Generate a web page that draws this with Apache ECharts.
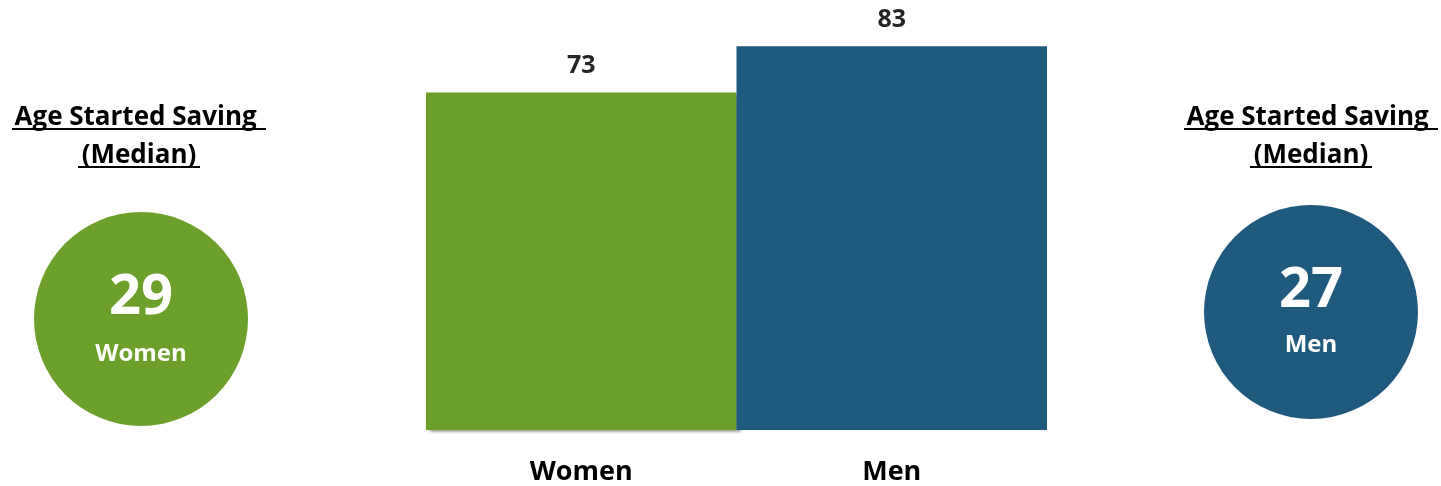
<!DOCTYPE html>
<html>
<head>
<meta charset="utf-8">
<script src="https://cdn.jsdelivr.net/npm/echarts@6/dist/echarts.min.js"></script>
<style>
html,body{margin:0;padding:0;background:#fff;}
#main{width:1441px;height:486px;}
</style>
</head>
<body>
<div id="main"></div>
<script>
const categories = ['Women', 'Men'];
const barValues = [73, 83];
const medianAges = [29, 27];
const circleLabels = ['Women', 'Men'];
const titleLines = ['Age Started Saving ', '(Median)'];
const colors = ['#6CA02A', '#1F5A7E'];

const FONT = '"Open Sans", sans-serif';
const chart = echarts.init(document.getElementById('main'));

function titleBlock(cx) {
  const els = [];
  const ys = [118, 156];
  const underlineY = [129, 167];
  const widths = [254, 122];
  titleLines.forEach((t, i) => {
    els.push({
      type: 'text', x: cx, y: ys[i],
      style: { text: t, font: 'bold 26px ' + FONT, fill: '#000', align: 'center', verticalAlign: 'middle' }
    });
    els.push({
      type: 'line',
      shape: { x1: cx - widths[i] / 2, y1: underlineY[i], x2: cx + widths[i] / 2, y2: underlineY[i] },
      style: { stroke: '#000', lineWidth: 2 }
    });
  });
  return els;
}

function circleBlock(cx, cy, idx, numDy, labelDy) {
  return [
    { type: 'circle', shape: { cx: cx, cy: cy, r: 107 }, style: { fill: colors[idx] } },
    { type: 'text', x: cx, y: cy + numDy,
      style: { text: String(medianAges[idx]), font: 'bold 56px ' + FONT, fill: '#fff', align: 'center', verticalAlign: 'middle' } },
    { type: 'text', x: cx, y: cy + labelDy,
      style: { text: circleLabels[idx], font: 'bold 24px ' + FONT, fill: '#fff', align: 'center', verticalAlign: 'middle' } }
  ];
}

const graphics = []
  .concat(titleBlock(139))
  .concat(titleBlock(1311))
  .concat(circleBlock(141, 319, 0, -21, 35))
  .concat(circleBlock(1311, 312, 1, -21, 33));

chart.setOption({
  animation: false,
  grid: { left: 426, right: 394, top: 14, bottom: 56 },
  xAxis: {
    type: 'category',
    data: categories,
    axisLine: { show: false },
    axisTick: { show: false },
    axisLabel: { margin: 29, fontSize: 27, fontWeight: 'bold', color: '#000', fontFamily: FONT }
  },
  yAxis: {
    type: 'value', min: 0, max: 90, show: false,
    splitLine: { show: false }
  },
  series: [{
    type: 'bar',
    barWidth: '100%',
    data: barValues.map((v, i) => ({
      value: v,
      itemStyle: i === 0
        ? { color: colors[i], shadowColor: 'rgba(0,0,0,0.45)', shadowOffsetX: 4, shadowOffsetY: 2, shadowBlur: 3 }
        : { color: colors[i] }
    })),
    label: {
      show: true, position: 'top', distance: 14,
      fontSize: 25, fontWeight: 'bold', color: '#262626', fontFamily: FONT
    }
  }],
  graphic: graphics
});
</script>
</body>
</html>
